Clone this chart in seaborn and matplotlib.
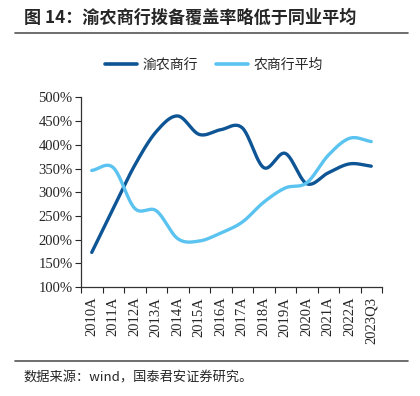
import numpy as np
import pandas as pd
import matplotlib
matplotlib.use("Agg")
import matplotlib.pyplot as plt
import seaborn as sns
from matplotlib.lines import Line2D

## data (provision coverage ratio, %)
years = ["2010A", "2011A", "2012A", "2013A", "2014A", "2015A", "2016A",
         "2017A", "2018A", "2019A", "2020A", "2021A", "2022A", "2023Q3"]
cqrcb = [173, 266, 357, 428, 461, 422, 432, 436, 352, 382, 318, 341, 360, 355]
rural_avg = [346, 352, 266, 261, 202, 197, 214, 237, 279, 309, 320, 378, 414, 407]
series_names = ["渝农商行", "农商行平均"]
colors = ["#0E5595", "#5BC3F0"]

sns.set_style("ticks")
plt.rcParams["font.family"] = ["Liberation Serif", "Noto Sans CJK SC"]
cjk = ["Noto Sans CJK SC", "DejaVu Sans"]


## excel-style smoothed line (catmull-rom between the data points)
def smooth(vals, n=24):
    p = np.asarray(vals, float)
    pad = np.r_[2 * p[0] - p[1], p, 2 * p[-1] - p[-2]]
    xs, ys = [], []
    t = np.linspace(0, 1, n, endpoint=False)
    for i in range(len(p) - 1):
        p0, p1, p2, p3 = pad[i:i + 4]
        y = 0.5 * (2 * p1 + (-p0 + p2) * t + (2 * p0 - 5 * p1 + 4 * p2 - p3) * t ** 2
                   + (-p0 + 3 * p1 - 3 * p2 + p3) * t ** 3)
        xs.append(i + t)
        ys.append(y)
    xs.append([len(p) - 1])
    ys.append([p[-1]])
    return np.concatenate(xs), np.concatenate(ys)


frames = []
for name, vals in zip(series_names, [cqrcb, rural_avg]):
    sx, sy = smooth(vals)
    frames.append(pd.DataFrame({"x": sx, "y": sy, "series": name}))
df = pd.concat(frames, ignore_index=True)

fig = plt.figure(figsize=(4.2, 3.96), dpi=100)
ax = fig.add_axes([81 / 420, 1 - 287 / 396, 301 / 420, 189.5 / 396])

sns.lineplot(data=df, x="x", y="y", hue="series", palette=colors, sort=False,
             linewidth=2.4, legend=False, ax=ax)

ax.set_xlim(-0.5, len(years) - 0.5)
ax.set_ylim(100, 500)
ax.set_yticks(range(100, 501, 50))
ax.set_yticklabels([f"{v}%" for v in range(100, 501, 50)], fontsize=10.5)
ax.set_xticks(range(len(years)))
ax.set_xticklabels(years, rotation=90, fontsize=10.5)
ax.set_xticks(np.arange(-0.5, len(years)), minor=True)
ax.tick_params(axis="x", which="major", length=0, pad=7)
ax.tick_params(axis="x", which="minor", length=4, width=0.8, direction="out")
ax.tick_params(axis="y", length=4, width=0.8, pad=2)
ax.set_xlabel("")
ax.set_ylabel("")
for s in ["top", "right"]:
    ax.spines[s].set_visible(False)
for s in ["left", "bottom"]:
    ax.spines[s].set_color("#333333")
    ax.spines[s].set_linewidth(0.9)

## legend
handles = [Line2D([], [], color=c, lw=2.6) for c in colors]
fig.legend(handles, series_names, loc="center", bbox_to_anchor=(0.51, 1 - 65 / 396),
           ncol=2, frameon=False, handlelength=2.3, columnspacing=1.3,
           handletextpad=0.4, prop={"family": cjk, "size": 10})

## title, rules and source
fig.text(24 / 420, 1 - 18 / 396, "图 14：渝农商行拨备覆盖率略低于同业平均", family=cjk,
         fontsize=12.3, fontweight="bold", va="center", ha="left")
fig.add_artist(Line2D([15 / 420, 408 / 420], [1 - 33 / 396] * 2, color="#555555", lw=1.2))
fig.add_artist(Line2D([15 / 420, 408 / 420], [1 - 361 / 396] * 2, color="#555555", lw=1.2))
fig.text(23 / 420, 1 - 378 / 396, "数据来源：wind，国泰君安证券研究。", family=cjk,
         fontsize=9.5, va="center", ha="left")

fig.savefig("out.png", dpi=100)
